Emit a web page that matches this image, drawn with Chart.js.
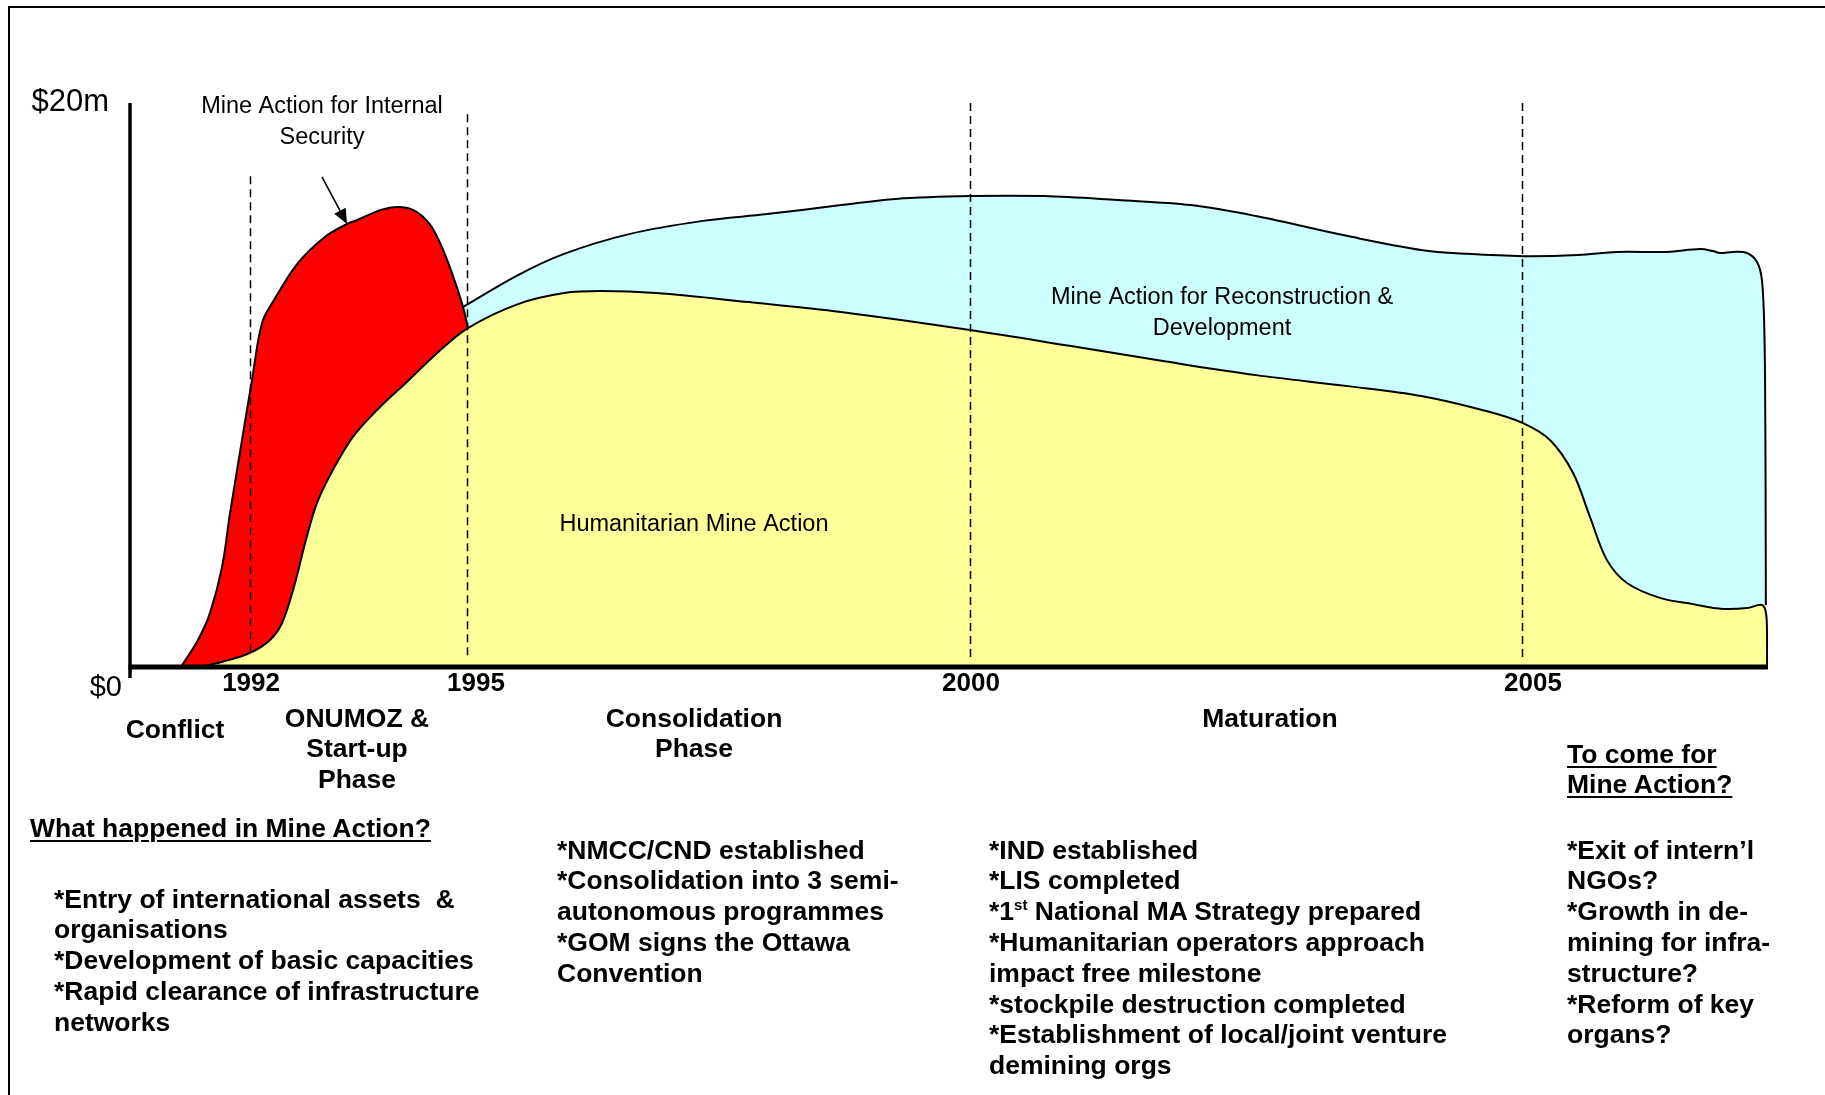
<!DOCTYPE html>
<html>
<head>
<meta charset="utf-8">
<script src="https://cdn.jsdelivr.net/npm/chart.js@4/dist/chart.umd.min.js"></script>
<style>
  html, body { margin: 0; padding: 0; background: #fff; }
  #wrap { position: relative; width: 1825px; height: 1095px; overflow: hidden; }
  #frame { position: absolute; left: 8px; top: 6px; right: -10px; bottom: -10px;
           border-top: 2.5px solid #000; border-left: 2.5px solid #000; }
  canvas { position: absolute; left: 0; top: 0; }
  .t { position: absolute; font: bold 26.5px "Liberation Sans", Arial, sans-serif;
       line-height: 30.8px; white-space: pre; color: #000; }
  .c { text-align: center; width: 300px; }
  .u { text-decoration: underline; text-decoration-thickness: 2px; text-underline-offset: 3px; }
  sup { font-size: 15px; line-height: 0; vertical-align: 10px; }
</style>
</head>
<body>
<div id="wrap">
  <div id="frame"></div>
  <canvas id="c" width="1825" height="1095"></canvas>

  <div class="t c" style="left:25px;top:713.6px">Conflict</div>
  <div class="t c" style="left:207px;top:702.6px">ONUMOZ &amp;
Start-up
Phase</div>
  <div class="t c" style="left:544px;top:702.6px">Consolidation
Phase</div>
  <div class="t c" style="left:1120px;top:702.6px">Maturation</div>
  <div class="t u" style="left:1567px;top:738.6px">To come for
Mine Action?</div>

  <div class="t u" style="left:30px;top:812.6px">What happened in Mine Action?</div>
  <div class="t" style="left:54px;top:883.6px">*Entry of international assets  &amp;
organisations
*Development of basic capacities
*Rapid clearance of infrastructure
networks</div>
  <div class="t" style="left:557px;top:834.6px">*NMCC/CND established
*Consolidation into 3 semi-
autonomous programmes
*GOM signs the Ottawa
Convention</div>
  <div class="t" style="left:989px;top:834.6px">*IND established
*LIS completed
*1<sup>st</sup> National MA Strategy prepared
*Humanitarian operators approach
impact free milestone
*stockpile destruction completed
*Establishment of local/joint venture
demining orgs</div>
  <div class="t" style="left:1567px;top:834.6px">*Exit of intern’l
NGOs?
*Growth in de-
mining for infra-
structure?
*Reform of key
organs?</div>
</div>

<script>
// timeline position (0-100 along the axis, not linear in years) vs funding in $m
const yearPos = [7.33, 20.57, 51.28, 84.98];
const yearLabels = ["1992", "1995", "2000", "2005"];
const markerTop = [17.4, 19.6, 20, 20];   // $m where each year marker starts
const yTicks = [0, 20];
const yTickLabels = ["$0", "$20m"];

const humanitarian = [
  [4.15, 0], [5.62, 0.18], [7.33, 0.5], [8.55, 0.96], [9.28, 1.56], [10.01, 2.84],
  [10.74, 4.5], [11.42, 5.82], [12.39, 6.99], [13.61, 8.16], [15.08, 9.11], [17.03, 10.18],
  [18.74, 11.13], [20.63, 12.02], [23.69, 12.87], [26.5, 13.26], [28.75, 13.33], [32.11, 13.26],
  [37.79, 12.94], [43.41, 12.59], [51.28, 11.95], [57.45, 11.38], [63.06, 10.85], [68.74, 10.35],
  [74.36, 9.96], [78.82, 9.61], [82.78, 9.08], [85.04, 8.65], [86.69, 8.05], [88.1, 6.88],
  [89.13, 5.32], [90.17, 3.79], [91.39, 2.98], [93.41, 2.45], [95.42, 2.23], [97.25, 2.06],
  [98.72, 2.09], [99.63, 2.2], [99.88, 1.91], [99.94, 0.96], [99.94, 0]
];
const security = [
  [3.11, 0], [4.15, 0.96], [4.88, 1.91], [5.62, 3.55], [6.11, 5.46], [6.84, 8.05],
  [7.45, 10.18], [8.06, 12.2], [8.79, 13.01], [10.26, 14.33], [11.9, 15.25], [13.25, 15.71],
  [13.86, 15.85], [15.32, 16.21], [16.3, 16.31], [17.28, 16.21], [18.25, 15.74], [18.93, 15.04],
  [19.66, 13.97], [20.33, 12.77], [20.63, 12.02]
];
const reconstruction = [
  [20.33, 12.77], [23.69, 13.9], [26.5, 14.65], [30.46, 15.35], [34.98, 15.82], [38.89, 16.06],
  [43.41, 16.38], [46.76, 16.6], [51.28, 16.7], [55.8, 16.7], [60.26, 16.56], [64.77, 16.38],
  [68.74, 15.99], [74.36, 15.28], [78.82, 14.79], [81.68, 14.65], [85.04, 14.57], [88.4, 14.61],
  [90.78, 14.72], [93.83, 14.72], [95.85, 14.82], [96.64, 14.75], [97.07, 14.68], [97.86, 14.72],
  [98.72, 14.68], [99.33, 14.36], [99.63, 13.72], [99.78, 11.84], [99.84, 8.3], [99.86, 4.75],
  [99.87, 2.2]
];

const FONT = '"Liberation Sans", Arial, sans-serif';
const yearLabelShift = [1, 9, 1, 11];   // px, labels sit a little right of their marker

// labels inside the plot, anchored in data units
const notes = [
  { x: 11.72, y: [19.89, 18.79], lines: ["Mine Action for Internal", "Security"] },
  { x: 66.67, y: [13.09, 11.99], lines: ["Mine Action for Reconstruction &", "Development"] },
  { x: 34.43, y: [5.04], lines: ["Humanitarian Mine Action"] }
];
const arrow = { from: [11.72, 17.38], to: [13.25, 15.71] };

const pts = (a) => a.map(([x, y]) => ({ x, y }));

const decor = {
  id: "decor",
  afterDatasetsDraw(chart) {
    const { ctx } = chart;
    const x = chart.scales.x, y = chart.scales.y;
    const base = y.getPixelForValue(0);
    const left = x.getPixelForValue(0), right = x.getPixelForValue(100);
    ctx.save();

    // year markers
    ctx.strokeStyle = "#000";
    ctx.lineWidth = 1.5;
    ctx.setLineDash([8, 5]);
    yearPos.forEach((v, i) => {
      const px = Math.round(x.getPixelForValue(v)) + 0.5;
      ctx.beginPath();
      ctx.moveTo(px, y.getPixelForValue(markerTop[i]));
      ctx.lineTo(px, base - 10);
      ctx.stroke();
    });
    ctx.setLineDash([]);

    // axes
    ctx.lineWidth = 3.5;
    ctx.beginPath();
    ctx.moveTo(left, y.getPixelForValue(20));
    ctx.lineTo(left, base + 11);
    ctx.stroke();
    ctx.lineWidth = 5;
    ctx.beginPath();
    ctx.moveTo(left - 1.5, base);
    ctx.lineTo(right, base);
    ctx.stroke();

    // tick labels
    ctx.fillStyle = "#000";
    ctx.textBaseline = "middle";
    ctx.textAlign = "right";
    yTicks.forEach((v, i) => {
      const py = y.getPixelForValue(v);
      if (v === 0) {
        ctx.font = "29px " + FONT;
        ctx.fillText(yTickLabels[i], left - 8, py + 21);
      } else {
        ctx.font = "31px " + FONT;
        ctx.fillText(yTickLabels[i], left - 21, py - 1);
      }
    });
    ctx.textAlign = "center";
    ctx.font = "bold 26px " + FONT;
    yearPos.forEach((v, i) => {
      ctx.fillText(yearLabels[i], x.getPixelForValue(v) + yearLabelShift[i], base + 17);
    });

    // annotations
    ctx.font = "23.5px " + FONT;
    notes.forEach((n) => {
      n.lines.forEach((s, j) => ctx.fillText(s, x.getPixelForValue(n.x), y.getPixelForValue(n.y[j])));
    });

    // arrow
    const ax = x.getPixelForValue(arrow.from[0]), ay = y.getPixelForValue(arrow.from[1]);
    const bx = x.getPixelForValue(arrow.to[0]), by = y.getPixelForValue(arrow.to[1]);
    const ang = Math.atan2(by - ay, bx - ax);
    const hl = 15, hw = 6.5;
    ctx.lineWidth = 1.6;
    ctx.beginPath();
    ctx.moveTo(ax, ay);
    ctx.lineTo(bx - hl * Math.cos(ang), by - hl * Math.sin(ang));
    ctx.stroke();
    ctx.beginPath();
    ctx.moveTo(bx, by);
    ctx.lineTo(bx - hl * Math.cos(ang) + hw * Math.sin(ang), by - hl * Math.sin(ang) - hw * Math.cos(ang));
    ctx.lineTo(bx - hl * Math.cos(ang) - hw * Math.sin(ang), by - hl * Math.sin(ang) + hw * Math.cos(ang));
    ctx.closePath();
    ctx.fill();

    ctx.restore();
  }
};

new Chart(document.getElementById("c"), {
  type: "line",
  data: {
    datasets: [
      { label: "Humanitarian Mine Action", data: pts(humanitarian), backgroundColor: "#FFFF99", fill: "origin" },
      { label: "Mine Action for Internal Security", data: pts(security), backgroundColor: "#FF0000", fill: "origin" },
      { label: "Mine Action for Reconstruction & Development", data: pts(reconstruction), backgroundColor: "#CCFFFF", fill: "origin" }
    ]
  },
  options: {
    responsive: false,
    animation: false,
    devicePixelRatio: 1,
    layout: { padding: { left: 130, top: 103, right: 57, bottom: 428 } },
    elements: {
      line: { borderColor: "#000", borderWidth: 2, tension: 0.35 },
      point: { radius: 0, hoverRadius: 0 }
    },
    scales: {
      x: { type: "linear", min: 0, max: 100, display: false },
      y: { min: 0, max: 20, display: false }
    },
    plugins: { legend: { display: false }, tooltip: { enabled: false } }
  },
  plugins: [decor]
});
</script>
</body>
</html>
